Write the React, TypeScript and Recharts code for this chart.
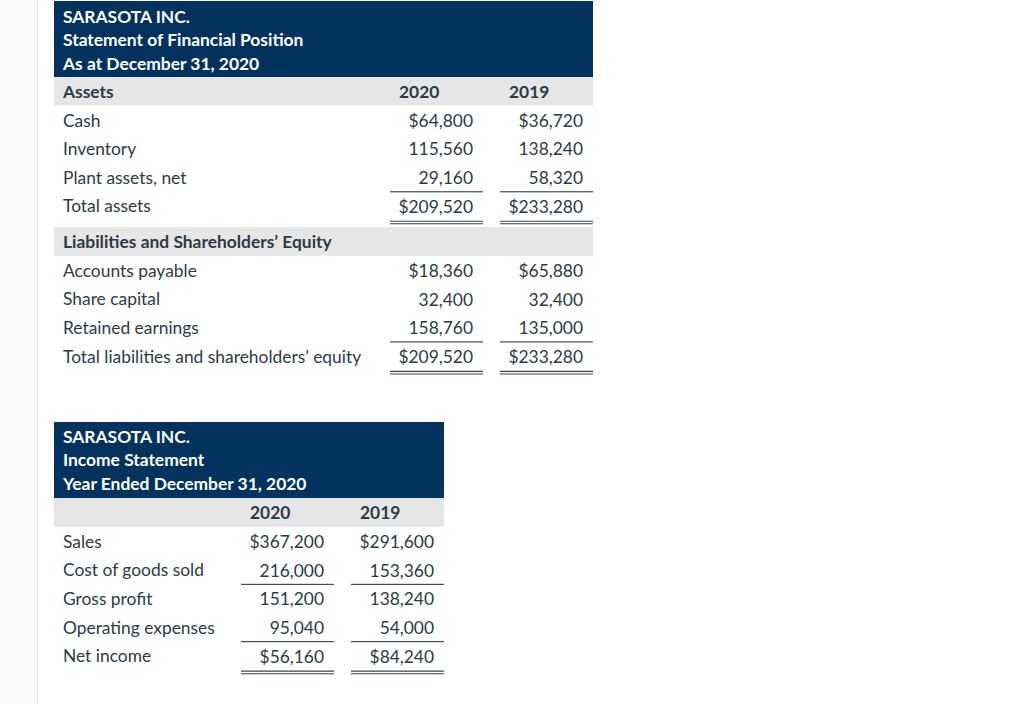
import { BarChart, Bar, XAxis, YAxis, ReferenceArea, LabelList } from 'recharts';

const years = ['2020', '2019'];

const balanceTitle = ['SARASOTA INC.', 'Statement of Financial Position', 'As at December 31, 2020'];
const incomeTitle = ['SARASOTA INC.', 'Income Statement', 'Year Ended December 31, 2020'];

const assetLabels = ['Cash', 'Inventory', 'Plant assets, net', 'Total assets'];
const assets2020 = [64800, 115560, 29160, 209520];
const assets2019 = [36720, 138240, 58320, 233280];
const assetRules = ['', '', 'single', 'double'];
const assetDollar = [true, false, false, true];

const liabLabels = [
  'Accounts payable',
  'Share capital',
  'Retained earnings',
  'Total liabilities and shareholders’ equity',
];
const liab2020 = [18360, 32400, 158760, 209520];
const liab2019 = [65880, 32400, 135000, 233280];
const liabRules = ['', '', 'single', 'double'];
const liabDollar = [true, false, false, true];

const incomeLabels = ['Sales', 'Cost of goods sold', 'Gross profit', 'Operating expenses', 'Net income'];
const income2020 = [367200, 216000, 151200, 95040, 56160];
const income2019 = [291600, 153360, 138240, 54000, 84240];
const incomeRules = ['', 'single', '', 'single', 'double'];
const incomeDollar = [true, false, false, false, true];

const FONT = 'Lato, "Open Sans", sans-serif';
const FS = 17.4;
const INK = '#2d3b45';
const NAVY = '#03325f';
const BAND = '#e6e6e6';
const COL_W = 93;
const COL_STEP = 110;

type Sec = {
  heading: string;
  headKey: string;
  showYears: boolean;
  labels: string[];
  values: number[][];
  rules: string[];
  dollar: boolean[];
};

// right edge of a year column, in chart pixels
const colRight = (chartW: number, i: number) => chartW - (years.length - 1 - i) * COL_STEP;

function Title({ lines, top, width, pad }: { lines: string[]; top: number; width: number; pad: number }) {
  return (
    <div
      style={{
        position: 'absolute',
        left: 54,
        top,
        width,
        height: 76,
        boxSizing: 'border-box',
        background: NAVY,
        color: '#fff',
        fontFamily: FONT,
        fontWeight: 700,
        fontSize: FS,
        lineHeight: '23.6px',
        padding: `${pad}px 9px 0`,
        whiteSpace: 'nowrap',
      }}
    >
      {lines.map((l) => (
        <div key={l}>{l}</div>
      ))}
    </div>
  );
}

function Section({ sec, width, rowH, top }: { sec: Sec; width: number; rowH: number; top: number }) {
  const chartW = width + 1; // 1px y-axis sits left of the table
  const data = [
    { label: sec.headKey, y2020: null, y2019: null },
    ...sec.labels.map((label, i) => ({ label, y2020: sec.values[0][i], y2019: sec.values[1][i] })),
  ];
  const height = data.length * rowH + 5;
  const dy = 6.7;

  const renderTick = (p: any) => {
    const v = p.payload?.value;
    const y = p.y + dy;
    if (v === sec.headKey) {
      return (
        <g>
          {sec.heading && (
            <text x={10} y={y} fontFamily={FONT} fontSize={FS} fontWeight={700} fill={INK}>
              {sec.heading}
            </text>
          )}
          {sec.showYears &&
            years.map((yr, yi) => (
              <text
                key={yr}
                x={colRight(chartW, yi) - COL_W + 9}
                y={y}
                fontFamily={FONT}
                fontSize={FS}
                fontWeight={700}
                fill={INK}
              >
                {yr}
              </text>
            ))}
        </g>
      );
    }
    return (
      <text x={10} y={y} fontFamily={FONT} fontSize={FS} fill={INK}>
        {v}
      </text>
    );
  };

  const renderCell = (yi: number) => (p: any) => {
    const i = sec.labels.indexOf(p.value);
    if (i < 0) return null;
    const vb = p.viewBox ?? p;
    const y0 = Number(vb.y);
    const h = Number(vb.height);
    const right = colRight(chartW, yi);
    const n = sec.values[yi][i];
    const txt = (sec.dollar[i] ? '$' : '') + n.toLocaleString('en-US');
    const rule = sec.rules[i];
    const bottom = y0 + h;
    return (
      <g>
        <text
          x={right - 10}
          y={y0 + h / 2 + dy}
          textAnchor="end"
          fontFamily={FONT}
          fontSize={FS}
          fill={INK}
        >
          {txt}
        </text>
        {rule === 'single' && (
          <line x1={right - COL_W} x2={right} y1={bottom} y2={bottom} stroke="#1f2a30" strokeWidth={1} />
        )}
        {rule === 'double' && (
          <g stroke="#3a464e" strokeWidth={1.1}>
            <line x1={right - COL_W} x2={right} y1={bottom + 0.8} y2={bottom + 0.8} />
            <line x1={right - COL_W} x2={right} y1={bottom + 3.4} y2={bottom + 3.4} />
          </g>
        )}
      </g>
    );
  };

  return (
    <div style={{ position: 'absolute', left: 53, top }}>
      <BarChart
        width={chartW}
        height={height}
        data={data}
        layout="vertical"
        margin={{ top: 0, right: 0, bottom: 5, left: 0 }}
        barCategoryGap={0}
        barGap={0}
      >
        <XAxis type="number" hide />
        <ReferenceArea y1={sec.headKey} y2={sec.headKey} fill={BAND} fillOpacity={1} stroke="none" />
        <YAxis
          type="category"
          dataKey="label"
          width={1}
          axisLine={false}
          tickLine={false}
          interval={0}
          tick={renderTick}
        />
        {years.map((yr, yi) => (
          <Bar key={yr} dataKey={`y${yr}`} name={yr} stackId="cols" fill="none" isAnimationActive={false}>
            <LabelList dataKey="label" content={renderCell(yi)} />
          </Bar>
        ))}
      </BarChart>
    </div>
  );
}

const assetSec: Sec = {
  heading: 'Assets',
  headKey: 'Assets',
  showYears: true,
  labels: assetLabels,
  values: [assets2020, assets2019],
  rules: assetRules,
  dollar: assetDollar,
};

const liabSec: Sec = {
  heading: 'Liabilities and Shareholders’ Equity',
  headKey: 'Liabilities and Shareholders’ Equity',
  showYears: false,
  labels: liabLabels,
  values: [liab2020, liab2019],
  rules: liabRules,
  dollar: liabDollar,
};

const incomeSec: Sec = {
  heading: '',
  headKey: 'income-head',
  showYears: true,
  labels: incomeLabels,
  values: [income2020, income2019],
  rules: incomeRules,
  dollar: incomeDollar,
};

export default function App() {
  return (
    <div
      style={{
        position: 'absolute',
        left: 0,
        top: 0,
        width: 1024,
        height: 704,
        background: '#fff',
        overflow: 'hidden',
      }}
    >
      <div
        style={{
          position: 'absolute',
          left: 0,
          top: 0,
          width: 37,
          height: 704,
          background: '#fafafa',
          borderRight: '1px solid #e2e2e2',
        }}
      />
      <Title lines={balanceTitle} top={1} width={539} pad={3.5} />
      <Section sec={assetSec} width={539} rowH={28.6} top={77} />
      <Section sec={liabSec} width={539} rowH={28.65} top={227} />
      <Title lines={incomeTitle} top={422} width={390} pad={2.5} />
      <Section sec={incomeSec} width={390} rowH={28.67} top={498} />
    </div>
  );
}
